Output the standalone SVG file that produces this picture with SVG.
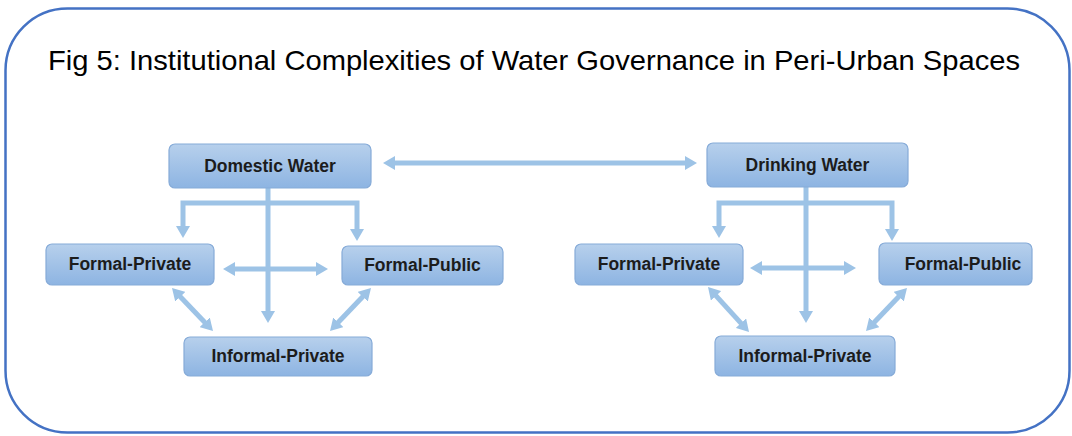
<svg xmlns="http://www.w3.org/2000/svg" width="1072" height="436" viewBox="0 0 1072 436">
  <defs>
    <linearGradient id="nodeGrad" x1="0" y1="0" x2="0" y2="1">
      <stop offset="0" stop-color="#B7D0EC"/>
      <stop offset="1" stop-color="#8DB4E2"/>
    </linearGradient>
    <marker id="ah" viewBox="0 0 12 14" refX="1" refY="7" markerWidth="12" markerHeight="14" markerUnits="userSpaceOnUse" orient="auto-start-reverse">
      <path d="M0,0 L12,7 L0,14 z" fill="#9DC3E6"/>
    </marker>
    <style>
      .node rect { fill: url(#nodeGrad); stroke: #86ABD8; stroke-width: 1.2; }
      .node text { font-family: "Liberation Sans", Arial, sans-serif; font-weight: bold; font-size: 17.5px; fill: #1C1C1C; text-anchor: middle; }
      .conn { fill: none; stroke: #9DC3E6; stroke-width: 5; stroke-linejoin: miter; }
      .arr2 { marker-start: url(#ah); marker-end: url(#ah); }
      .arr1 { marker-end: url(#ah); }
    </style>
  </defs>
  <rect width="1072" height="436" fill="#FFFFFF"/>
  <rect id="frame" x="5.5" y="8.5" width="1064" height="424" rx="62" ry="62" fill="none" stroke="#4472C4" stroke-width="2.5"/>
  <text id="title" x="48" y="70" font-family="Liberation Sans, Arial, sans-serif" font-size="28.5" fill="#000000" textLength="972" lengthAdjust="spacingAndGlyphs">Fig 5: Institutional Complexities of Water Governance in Peri-Urban Spaces</text>

  <g id="connectors">
    <line class="conn arr2" x1="394" y1="163" x2="686" y2="163"/>
    <!-- left cluster -->
    <path class="conn arr2" d="M183,227 V203 H357 V230"/>
    <path class="conn arr1" d="M268,188 V312"/>
    <line class="conn arr2" x1="234" y1="269" x2="317" y2="269"/>
    <line class="conn arr2" x1="179.6" y1="296" x2="205.4" y2="323"/>
    <line class="conn arr2" x1="363.4" y1="296" x2="337.6" y2="323"/>
    <!-- right cluster -->
    <path class="conn arr2" d="M719,227 V203 H892 V230"/>
    <path class="conn arr1" d="M806,187 V312"/>
    <line class="conn arr2" x1="761" y1="268" x2="845" y2="268"/>
    <line class="conn arr2" x1="715.4" y1="295.1" x2="741.6" y2="323.9"/>
    <line class="conn arr2" x1="899.4" y1="296" x2="873.6" y2="323"/>
  </g>

  <g id="domestic-water" class="node">
    <rect x="169" y="144" width="202" height="44" rx="6"/>
    <text x="270" y="172">Domestic Water</text>
  </g>
  <g id="drinking-water" class="node">
    <rect x="707" y="143" width="201" height="44" rx="6"/>
    <text x="807.5" y="171">Drinking Water</text>
  </g>
  <g id="left-formal-private" class="node">
    <rect x="46" y="244" width="168" height="41" rx="6"/>
    <text x="130" y="270">Formal-Private</text>
  </g>
  <g id="left-formal-public" class="node">
    <rect x="342" y="246" width="161" height="39" rx="6"/>
    <text x="422.5" y="271">Formal-Public</text>
  </g>
  <g id="left-informal-private" class="node">
    <rect x="184" y="337" width="188" height="39" rx="6"/>
    <text x="278" y="362">Informal-Private</text>
  </g>
  <g id="right-formal-private" class="node">
    <rect x="575" y="244" width="168" height="41" rx="6"/>
    <text x="659" y="270">Formal-Private</text>
  </g>
  <g id="right-formal-public" class="node">
    <rect x="879" y="243" width="153" height="42" rx="6"/>
    <text x="963" y="270">Formal-Public</text>
  </g>
  <g id="right-informal-private" class="node">
    <rect x="715" y="336" width="180" height="40" rx="6"/>
    <text x="805" y="362">Informal-Private</text>
  </g>
</svg>
